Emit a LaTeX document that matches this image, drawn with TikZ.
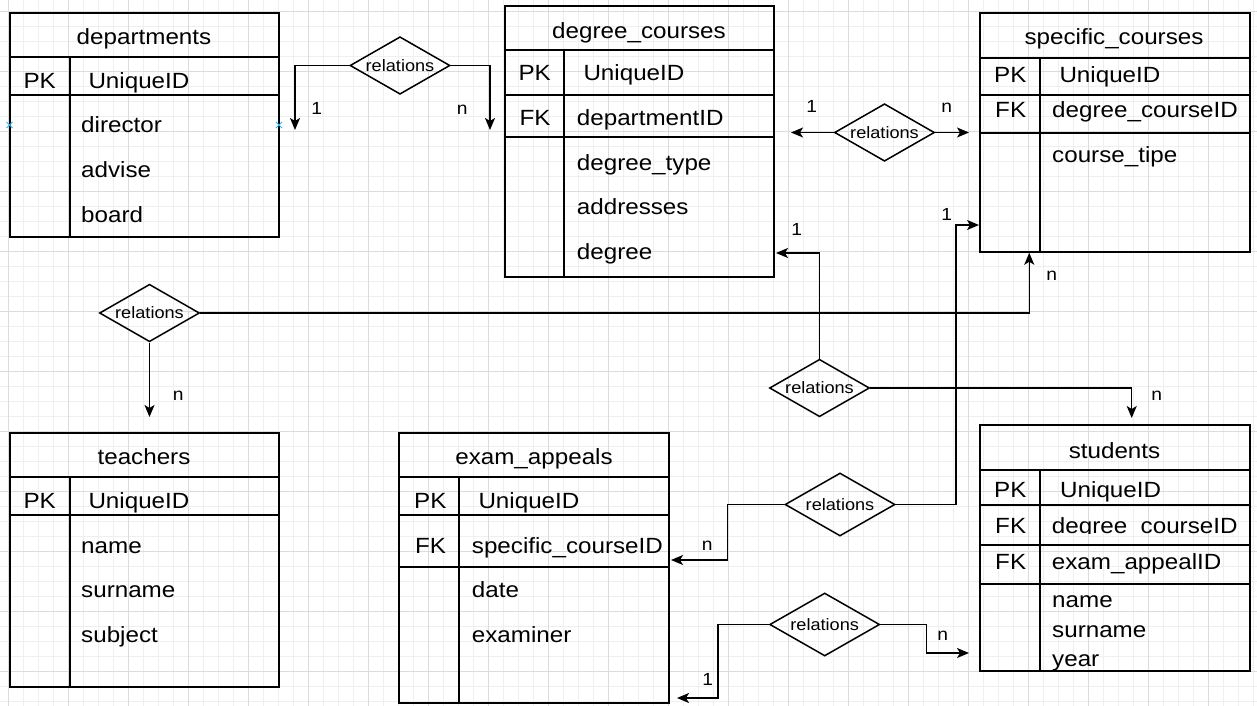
\documentclass[tikz,border=0pt]{standalone}
\usepackage{fontspec}
\setmainfont{Liberation Sans}[FakeStretch=1.1]
\usepackage{tikz}
\usetikzlibrary{positioning,arrows.meta,calc,shapes.geometric}
\definecolor{gridmajor}{RGB}{220,220,220}
\definecolor{gridminor}{RGB}{239,239,239}
\definecolor{hoverblue}{RGB}{41,182,242}
\newcommand{\tblfont}{\fontsize{22}{26}\selectfont}
\newcommand{\relfont}{\fontsize{16.5}{20}\selectfont}
\newcommand{\cardfont}{\fontsize{17.5}{20}\selectfont}

\begin{document}
\begin{tikzpicture}[x=1pt,y=-1pt,
  tbl/.style={draw,line width=1.5pt,inner sep=0pt},
  rowline/.style={line width=1.5pt},
  field/.style={font=\tblfont,inner sep=0pt,text height=15.7pt,text depth=0pt,anchor=west},
  title/.style={font=\tblfont,inner sep=0pt,text height=15.7pt,text depth=0pt},
  rel/.style={diamond,draw,line width=1.5pt,inner sep=0pt,aspect=1.75,minimum width=100pt,minimum height=57.5pt,font=\relfont},
  bigrel/.style={rel,minimum width=110pt,minimum height=63pt},
  card/.style={font=\cardfont,inner sep=0pt,anchor=base},
  conn/.style={line width=1.5pt,-{Stealth[length=12pt,width=10pt,inset=3pt]}}]
\useasboundingbox (0,0) rectangle (1257,706);

% grid
\foreach \i in {0,...,83} \draw[gridminor,line width=0.7pt] ({8.3+15*\i},0) -- ({8.3+15*\i},706);
\foreach \j in {0,...,46} \draw[gridminor,line width=0.7pt] (0,{11.7+15*\j}) -- (1257,{11.7+15*\j});
\foreach \i in {0,...,20} \draw[gridmajor,line width=0.8pt] ({8.3+60*\i},0) -- ({8.3+60*\i},706);
\foreach \j in {0,...,11} \draw[gridmajor,line width=0.8pt] (0,{11.7+60*\j}) -- (1257,{11.7+60*\j});

% departments
\node[tbl,minimum width=269pt,minimum height=224pt] (dept) at (144.5,125) {};
\draw[rowline] (10,57) -- (279,57);
\draw[rowline] (10,95) -- (279,95);
\draw[rowline] (70,57) -- (70,237);
\node[title] (dept-t) at (144,36.7) {departments};
\node[field] (dept-pk) at (23.3,80.3) {PK};
\node[field] (dept-id) at (88.3,80.3) {UniqueID};
\node[field] (dept-f1) at (81,124.7) {director};
\node[field] (dept-f2) at (81,170) {advise};
\node[field] (dept-f3) at (81,214.5) {board};
\foreach \x in {9.5,279} \draw[hoverblue,line width=0.8pt] (\x-3,122) -- (\x+3,128) (\x-3,128) -- (\x+3,122);

% degree_courses
\node[tbl,minimum width=269pt,minimum height=271pt] (degc) at (639.5,141.5) {};
\draw[rowline] (505,50) -- (774,50);
\draw[rowline] (505,95) -- (774,95);
\draw[rowline] (505,137) -- (774,137);
\draw[rowline] (564,50) -- (564,277);
\node[title] (degc-t) at (639,30.2) {degree\_courses};
\node[field] (degc-pk) at (518.3,72.5) {PK};
\node[field] (degc-id) at (583.3,72.5) {UniqueID};
\node[field] (degc-fk) at (519.3,117.2) {FK};
\node[field] (degc-fid) at (576.7,117.2) {departmentID};
\node[field] (degc-f1) at (576.7,162.2) {degree\_type};
\node[field] (degc-f2) at (576.7,206.8) {addresses};
\node[field] (degc-f3) at (576.7,251.8) {degree};

% specific_courses
\node[tbl,minimum width=270pt,minimum height=239pt] (spec) at (1115,132.5) {};
\draw[rowline] (980,58) -- (1250,58);
\draw[rowline] (980,95) -- (1250,95);
\draw[rowline] (980,133) -- (1250,133);
\draw[rowline] (1040,58) -- (1040,252);
\node[title] (spec-t) at (1114,36.8) {specific\_courses};
\node[field] (spec-pk) at (994,74.3) {PK};
\node[field] (spec-id) at (1059.3,74.3) {UniqueID};
\node[field] (spec-fk) at (995,109.7) {FK};
\node[field] (spec-fid) at (1052,109.7) {degree\_courseID};
\node[field] (spec-f1) at (1052,155) {course\_tipe};

% teachers
\node[tbl,minimum width=269pt,minimum height=254pt] (teach) at (144.5,560) {};
\draw[rowline] (10,477) -- (279,477);
\draw[rowline] (10,515) -- (279,515);
\draw[rowline] (70,477) -- (70,687);
\node[title] (teach-t) at (144,456.8) {teachers};
\node[field] (teach-pk) at (23.3,500.3) {PK};
\node[field] (teach-id) at (88.3,500.3) {UniqueID};
\node[field] (teach-f1) at (81,545.2) {name};
\node[field] (teach-f2) at (81,589.8) {surname};
\node[field] (teach-f3) at (81,634.2) {subject};

% exam_appeals
\node[tbl,minimum width=270pt,minimum height=270pt] (exam) at (534,568) {};
\draw[rowline] (399,477) -- (669,477);
\draw[rowline] (399,515) -- (669,515);
\draw[rowline] (399,567) -- (669,567);
\draw[rowline] (459,477) -- (459,703);
\node[title] (exam-t) at (534,457) {exam\_appeals};
\node[field] (exam-pk) at (414,500.3) {PK};
\node[field] (exam-id) at (478.3,500.3) {UniqueID};
\node[field] (exam-fk) at (415,545.5) {FK};
\node[field] (exam-fid) at (471.7,545.5) {specific\_courseID};
\node[field] (exam-f1) at (471.7,589.8) {date};
\node[field] (exam-f2) at (471.7,634.2) {examiner};

% students
\node[tbl,minimum width=270pt,minimum height=246pt] (stud) at (1115,548) {};
\draw[rowline] (980,470) -- (1250,470);
\draw[rowline] (980,505) -- (1250,505);
\draw[rowline] (980,545) -- (1250,545);
\draw[rowline] (980,584) -- (1250,584);
\draw[rowline] (1040,470) -- (1040,671);
\node[title] (stud-t) at (1114.5,450.3) {students};
\node[field] (stud-pk) at (994,489.7) {PK};
\node[field] (stud-id) at (1060,489.7) {UniqueID};
\node[field] (stud-fk1) at (995,525.5) {FK};
\begin{scope}
\clip (1041,506) rectangle (1249,533.5);
\node[field] (stud-fid1) at (1051.7,525.5) {degree\_courseID};
\end{scope}
\node[field] (stud-fk2) at (995,561.7) {FK};
\node[field] (stud-fid2) at (1051.7,561.7) {exam\_appealID};
\node[field] (stud-f1) at (1052,599.8) {name};
\node[field] (stud-f2) at (1052,629.2) {surname};
\node[field] (stud-f3) at (1052,658.2) {year};

% relations
\node[rel] (rel1) at (400,65.5) {relations};
\node[rel] (rel2) at (884.5,132.5) {relations};
\node[rel] (rel3) at (149.5,313) {relations};
\node[rel] (rel4) at (819.5,388) {relations};
\node[bigrel] (rel5) at (840,504.5) {relations};
\node[bigrel] (rel6) at (824.7,624.5) {relations};

% arrow ends
\coordinate (dept-in) at (295,130);
\coordinate (degc-in1) at (490,130);
\coordinate (degc-in2) at (791,132.5);
\coordinate (spec-in1) at (969,132.5);
\coordinate (spec-in2) at ($(spec.south west)+(50,0)$);
\coordinate (teach-in) at (149.5,417);
\coordinate (degc-in3) at (776,253);
\coordinate (stud-in1) at (1131.7,418);
\coordinate (spec-in3) at (979,225);
\coordinate (exam-in1) at (671,560);
\coordinate (exam-in2) at (677,698);
\coordinate (stud-in2) at (969,653);

\draw[conn] (rel1.west) -| (dept-in);
\draw[conn] (rel1.east) -| (degc-in1);
\draw[conn] (rel2.west) -- (degc-in2);
\draw[conn] (rel2.east) -- (spec-in1);
\draw[conn] (rel3.east) -| (spec-in2);
\draw[conn] (rel3.south) -- (teach-in);
\draw[conn] (rel4.north) |- (degc-in3);
\draw[conn] (rel4.east) -| (stud-in1);
\draw[conn] (rel5.east) -- ++(60,0) |- (spec-in3);
\draw[conn] (rel5.west) -- ++(-57,0) |- (exam-in1);
\draw[conn] (rel6.west) -- ++(-51,0) |- (exam-in2);
\draw[conn] (rel6.east) -- ++(46,0) |- (stud-in2);

% cardinalities
\node[card] (card1) at (316.7,115) {1};
\node[card] (card2) at (462.3,115) {n};
\node[card] (card3) at (811.7,112.7) {1};
\node[card] (card4) at (946.7,112.7) {n};
\node[card] (card5) at (946.7,220) {1};
\node[card] (card6) at (796.7,235.3) {1};
\node[card] (card7) at (1051.7,280) {n};
\node[card] (card8) at (178.3,400.7) {n};
\node[card] (card9) at (1156.7,400.7) {n};
\node[card] (card10) at (707.3,550.7) {n};
\node[card] (card11) at (707.7,685) {1};
\node[card] (card12) at (942.7,640) {n};
\end{tikzpicture}
\end{document}
